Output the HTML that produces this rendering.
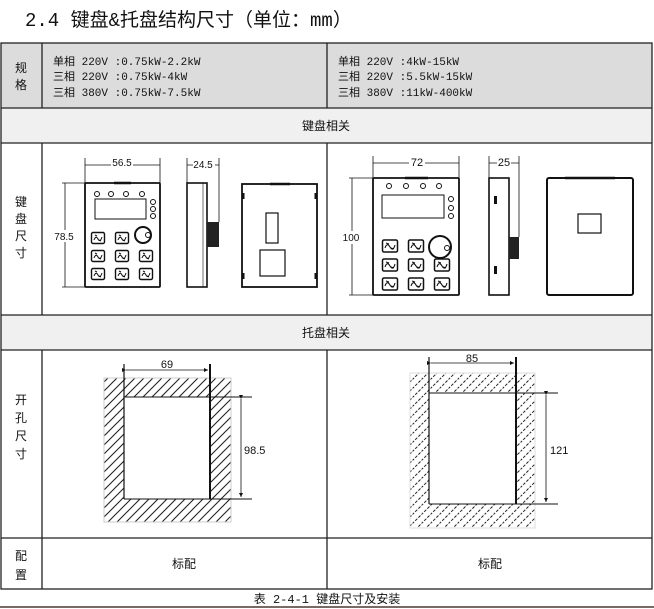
<!DOCTYPE html>
<html><head><meta charset="utf-8"><style>
html,body{margin:0;padding:0;background:#fff;width:654px;height:609px;overflow:hidden}
svg text{font-family:"Liberation Sans","Noto Sans CJK SC",sans-serif;fill:#111}
.m{font-family:"Liberation Mono","Noto Sans CJK SC",monospace}
</style></head><body>
<svg width="654" height="609" viewBox="0 0 654 609" xmlns="http://www.w3.org/2000/svg">
<defs>
<pattern id="h" width="9" height="9" patternUnits="userSpaceOnUse">
<path d="M-2,11 L11,-2 M-2,2 L2,-2 M7,11 L11,7" stroke="#222" stroke-width="1.1"/>
</pattern>
<pattern id="h2" width="9" height="9" patternUnits="userSpaceOnUse">
<path d="M-2,11 L11,-2 M-2,2 L2,-2 M7,11 L11,7" stroke="#222" stroke-width="1" stroke-dasharray="3,1.5"/>
</pattern>
<marker id="a" markerWidth="6" markerHeight="6" refX="5" refY="3" orient="auto"><path d="M0,0.5 L5,3 L0,5.5z" fill="#111"/></marker>
<g id="btn"><rect x="-6.5" y="-5.5" width="13" height="11" rx="1.5" fill="none" stroke="#111" stroke-width="1.4"/><path d="M-4,2 q2,-5 4,-1 q2,4 4,-2 M-3,-3 l2,1 M3,3 l-2,-1" stroke="#111" fill="none" stroke-width="1"/></g>
<g id="btn2"><rect x="-7.5" y="-6" width="15" height="12" rx="1.5" fill="none" stroke="#111" stroke-width="1.5"/><path d="M-5,2 q2,-6 5,-1 q3,5 5,-2 M-4,-3 l3,1 M4,3 l-3,-1" stroke="#111" fill="none" stroke-width="1.1"/></g>
</defs>

<text x="25" y="26" font-size="19" class="m">2.4 键盘&amp;托盘结构尺寸（单位：mm）</text>

<rect x="1" y="43" width="651" height="65" fill="#dcdcdc"/>
<rect x="1" y="108" width="651" height="35" fill="#f0f0f0"/>
<rect x="1" y="315" width="651" height="35" fill="#f0f0f0"/>

<g stroke="#222" stroke-width="1.3" fill="none">
<rect x="1" y="43" width="651" height="546"/>
<line x1="1" y1="108" x2="652" y2="108"/>
<line x1="1" y1="143" x2="652" y2="143"/>
<line x1="1" y1="315" x2="652" y2="315"/>
<line x1="1" y1="350" x2="652" y2="350"/>
<line x1="1" y1="538" x2="652" y2="538"/>
<line x1="42" y1="43" x2="42" y2="108"/>
<line x1="327" y1="43" x2="327" y2="108"/>
<line x1="42" y1="143" x2="42" y2="315"/>
<line x1="327" y1="143" x2="327" y2="315"/>
<line x1="42" y1="350" x2="42" y2="589"/>
<line x1="327" y1="350" x2="327" y2="589"/>
</g>
<line x1="0" y1="607" x2="654" y2="607" stroke="#4a3a30" stroke-width="1.5"/>

<g font-size="11" class="m">
<text x="15" y="72" font-size="12">规</text><text x="15" y="89" font-size="12">格</text>
<text x="53" y="65" class="m">单相 220V :0.75kW-2.2kW</text>
<text x="53" y="80" class="m">三相 220V :0.75kW-4kW</text>
<text x="53" y="96" class="m">三相 380V :0.75kW-7.5kW</text>
<text x="338" y="65" class="m">单相 220V :4kW-15kW</text>
<text x="338" y="80" class="m">三相 220V :5.5kW-15kW</text>
<text x="338" y="96" class="m">三相 380V :11kW-400kW</text>
</g>
<text x="326" y="130" font-size="12" text-anchor="middle">键盘相关</text>
<text x="326" y="337" font-size="12" text-anchor="middle">托盘相关</text>
<g font-size="12">
<text x="15" y="206">键</text><text x="15" y="223">盘</text><text x="15" y="240">尺</text><text x="15" y="257">寸</text>
<text x="15" y="404">开</text><text x="15" y="422">孔</text><text x="15" y="440">尺</text><text x="15" y="458">寸</text>
<text x="15" y="560">配</text><text x="15" y="579">置</text>
</g>
<text x="184" y="568" font-size="12" text-anchor="middle">标配</text>
<text x="490" y="568" font-size="12" text-anchor="middle">标配</text>
<text x="327" y="603" font-size="12" text-anchor="middle" class="m">表 2-4-1 键盘尺寸及安装</text>

<g stroke="#111" fill="none">
<line x1="85" y1="158" x2="85" y2="183" stroke-width="0.8"/><line x1="160" y1="158" x2="160" y2="183" stroke-width="0.8"/>
<line x1="85" y1="165" x2="160" y2="165" stroke-width="0.8"/>
<line x1="62" y1="183" x2="85" y2="183" stroke-width="0.8"/><line x1="62" y1="287" x2="85" y2="287" stroke-width="0.8"/>
<line x1="65" y1="183" x2="65" y2="287" stroke-width="0.8"/>
<rect x="85" y="183" width="75" height="104" stroke-width="1.8" rx="1"/>
<line x1="114" y1="183" x2="131" y2="183" stroke-width="2.5"/>
<circle cx="97" cy="194" r="2.5"/><circle cx="111" cy="194" r="2.5"/><circle cx="126" cy="194" r="2.5"/><circle cx="142" cy="194" r="2.5"/>
<circle cx="153" cy="202" r="2.5"/><circle cx="153" cy="209" r="2.5"/><circle cx="153" cy="216" r="2.5"/>
<rect x="95" y="199" width="51" height="20" stroke-width="1"/>
<circle cx="143" cy="235" r="8" stroke-width="2"/><circle cx="148" cy="235" r="2.5"/>
</g>
<rect x="111" y="157" width="22" height="10" fill="#fff"/>
<text x="122" y="166" font-size="10" text-anchor="middle">56.5</text>
<rect x="53" y="230" width="22" height="12" fill="#fff"/>
<text x="64" y="240" font-size="10" text-anchor="middle">78.5</text>
<use href="#btn" x="98" y="238"/><use href="#btn" x="122" y="238"/>
<use href="#btn" x="98" y="256"/><use href="#btn" x="122" y="256"/><use href="#btn" x="146" y="256"/>
<use href="#btn" x="98" y="274"/><use href="#btn" x="122" y="274"/><use href="#btn" x="146" y="274"/>
<g stroke="#111" fill="none">
<line x1="187" y1="158" x2="187" y2="183" stroke-width="0.8"/><line x1="219" y1="158" x2="219" y2="222" stroke-width="0.8"/>
<line x1="187" y1="165" x2="219" y2="165" stroke-width="0.8"/>
<rect x="187" y="183" width="20" height="104" stroke-width="1.6"/>
<line x1="203" y1="183" x2="203" y2="287" stroke-width="0.6"/>
</g>
<rect x="207" y="222" width="12" height="25" fill="#222"/>
<rect x="193" y="159" width="22" height="10" fill="#fff"/>
<text x="203" y="168" font-size="10" text-anchor="middle">24.5</text>
<g stroke="#111" fill="none">
<rect x="242" y="184" width="75" height="103" stroke-width="1.8"/>
<line x1="270" y1="184" x2="290" y2="184" stroke-width="2.5"/>
<rect x="266" y="213" width="12" height="30" stroke-width="1.2"/>
<rect x="260" y="250" width="25" height="26" stroke-width="1.2"/>
</g>
<g fill="#111"><rect x="242" y="193" width="2.5" height="6"/><rect x="314.5" y="193" width="2.5" height="6"/><rect x="242" y="273" width="2.5" height="6"/><rect x="314.5" y="273" width="2.5" height="6"/></g>

<g stroke="#111" fill="none">
<line x1="373" y1="156" x2="373" y2="178" stroke-width="0.8"/><line x1="459" y1="156" x2="459" y2="178" stroke-width="0.8"/>
<line x1="373" y1="163" x2="459" y2="163" stroke-width="0.8"/>
<line x1="349" y1="178" x2="373" y2="178" stroke-width="0.8"/><line x1="349" y1="295" x2="373" y2="295" stroke-width="0.8"/>
<line x1="352" y1="178" x2="352" y2="295" stroke-width="0.8"/>
<rect x="373" y="178" width="86" height="117" stroke-width="1.8" rx="1"/>
<line x1="405" y1="178" x2="428" y2="178" stroke-width="2.5"/>
<circle cx="389" cy="186" r="2.5"/><circle cx="406" cy="186" r="2.5"/><circle cx="423" cy="186" r="2.5"/><circle cx="439" cy="186" r="2.5"/>
<circle cx="451" cy="199" r="2.5"/><circle cx="451" cy="208" r="2.5"/><circle cx="451" cy="216" r="2.5"/>
<rect x="382" y="195" width="62" height="23" stroke-width="1"/>
<circle cx="440" cy="247" r="11" stroke-width="2"/><circle cx="447" cy="248" r="2.5"/>
</g>
<rect x="409" y="156" width="16" height="11" fill="#fff"/>
<text x="417" y="166" font-size="11" text-anchor="middle">72</text>
<rect x="342" y="231" width="20" height="13" fill="#fff"/>
<text x="351" y="241" font-size="10" text-anchor="middle">100</text>
<use href="#btn2" x="390" y="246"/><use href="#btn2" x="416" y="246"/>
<use href="#btn2" x="390" y="265"/><use href="#btn2" x="416" y="265"/><use href="#btn2" x="442" y="265"/>
<use href="#btn2" x="390" y="284"/><use href="#btn2" x="416" y="284"/><use href="#btn2" x="442" y="284"/>
<g stroke="#111" fill="none">
<line x1="489" y1="156" x2="489" y2="178" stroke-width="0.8"/><line x1="519" y1="156" x2="519" y2="237" stroke-width="0.8"/>
<line x1="489" y1="163" x2="519" y2="163" stroke-width="0.8"/>
<rect x="489" y="178" width="20" height="117" stroke-width="1.6"/>
</g>
<rect x="509" y="237" width="10" height="22" fill="#222"/>
<rect x="494" y="196" width="3" height="8" fill="#111"/><rect x="494" y="266" width="3" height="8" fill="#111"/>
<rect x="497" y="157" width="14" height="10" fill="#fff"/>
<text x="504" y="166" font-size="11" text-anchor="middle">25</text>
<g stroke="#111" fill="none">
<rect x="547" y="178" width="86" height="117" stroke-width="2" rx="2"/>
<line x1="565" y1="178" x2="615" y2="178" stroke-width="2.5"/>
<rect x="578" y="214" width="23" height="19" stroke-width="1.2"/>
</g>

<rect x="104" y="378" width="127" height="144" fill="url(#h)" stroke="#ccc" stroke-width="1"/>
<rect x="124" y="397" width="86" height="102" fill="#fff"/>
<g stroke="#111" fill="none">
<line x1="124" y1="397" x2="252" y2="397" stroke-width="1"/>
<line x1="124" y1="499" x2="252" y2="499" stroke-width="1"/>
<line x1="124" y1="364" x2="124" y2="499" stroke-width="1.2"/>
<line x1="210" y1="364" x2="210" y2="499" stroke-width="2"/>
<line x1="126" y1="370" x2="208" y2="370" stroke-width="0.8" marker-end="url(#a)" marker-start="url(#a)"/>
<line x1="241" y1="399" x2="241" y2="497" stroke-width="0.8" marker-end="url(#a)" marker-start="url(#a)"/>
</g>
<text x="167" y="368" font-size="11" text-anchor="middle">69</text>
<text x="244" y="454" font-size="11">98.5</text>

<rect x="410" y="373" width="125" height="155" fill="url(#h2)" stroke="#ddd" stroke-width="1"/>
<rect x="429" y="393" width="87" height="111" fill="#fff"/>
<g stroke="#111" fill="none">
<line x1="429" y1="393" x2="558" y2="393" stroke-width="1"/>
<line x1="429" y1="504" x2="558" y2="504" stroke-width="1"/>
<line x1="429" y1="357" x2="429" y2="504" stroke-width="1.2"/>
<line x1="516" y1="357" x2="516" y2="504" stroke-width="2"/>
<line x1="431" y1="363" x2="514" y2="363" stroke-width="0.8" marker-end="url(#a)" marker-start="url(#a)"/>
<line x1="546" y1="395" x2="546" y2="502" stroke-width="0.8" marker-end="url(#a)" marker-start="url(#a)"/>
</g>
<text x="472" y="362" font-size="11" text-anchor="middle">85</text>
<text x="550" y="454" font-size="11">121</text>
</svg>
</body></html>
